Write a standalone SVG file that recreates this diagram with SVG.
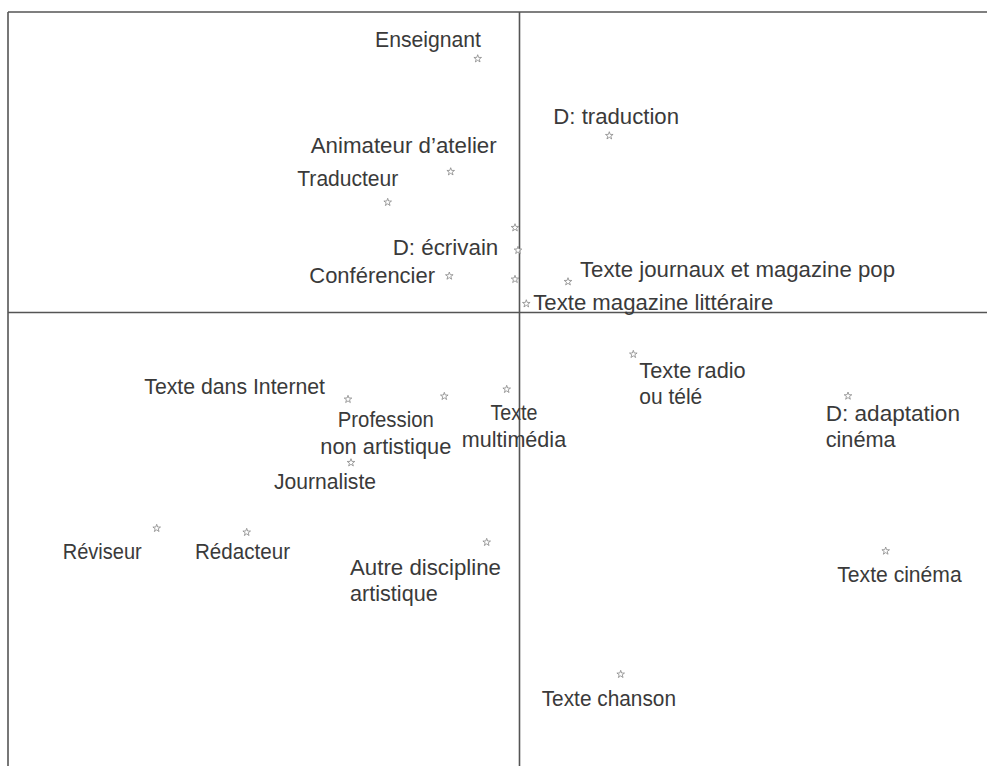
<svg xmlns="http://www.w3.org/2000/svg" xmlns:xlink="http://www.w3.org/1999/xlink" width="987" height="766" viewBox="0 0 987 766">
<style>
  .lbl { font-family: "Liberation Sans", Arial, sans-serif; font-size: 22px; fill: #3a3a3a; }
  .mid { text-anchor: middle; }
  .axis { stroke: #555; stroke-width: 1.6; fill: none; }
  .star { fill: #fff; stroke: #888; stroke-width: 0.8; }
</style>
<defs>
  <polygon id="st" class="star" points="0,-4 0.94,-1.29 3.8,-1.24 1.52,0.49 2.35,3.24 0,1.6 -2.35,3.24 -1.52,0.49 -3.8,-1.24 -0.94,-1.29"/>
</defs>
<rect width="987" height="766" fill="#fff"/>
<g id="axes">
  <line class="axis" x1="8" y1="12" x2="987" y2="12"/>
  <line class="axis" x1="8" y1="12" x2="8" y2="766"/>
  <line class="axis" x1="8" y1="312.5" x2="987" y2="312.5"/>
  <line class="axis" x1="519.5" y1="12" x2="519.5" y2="766"/>
</g>
<g id="enseignant"><use xlink:href="#st" href="#st" x="477.7" y="58.7"/><text class="lbl" x="375" y="47" textLength="106" lengthAdjust="spacingAndGlyphs">Enseignant</text></g>
<g id="d-traduction"><use xlink:href="#st" href="#st" x="609.3" y="135.7"/><text class="lbl" x="553.3" y="124" textLength="125.7" lengthAdjust="spacingAndGlyphs">D: traduction</text></g>
<g id="animateur"><use xlink:href="#st" href="#st" x="450.7" y="171.7"/><text class="lbl" x="310.7" y="152.7" textLength="186" lengthAdjust="spacingAndGlyphs">Animateur d’atelier</text></g>
<g id="traducteur"><use xlink:href="#st" href="#st" x="387.7" y="202.3"/><text class="lbl" x="297.3" y="185.7" textLength="101" lengthAdjust="spacingAndGlyphs">Traducteur</text></g>
<g id="point-a"><use xlink:href="#st" href="#st" x="515" y="227.7"/></g>
<g id="d-ecrivain"><use xlink:href="#st" href="#st" x="518" y="250.3"/><text class="lbl" x="392.7" y="255.3" textLength="105.6" lengthAdjust="spacingAndGlyphs">D: écrivain</text></g>
<g id="conferencier"><use xlink:href="#st" href="#st" x="449.3" y="276"/><text class="lbl" x="309.3" y="283.3" textLength="125.7" lengthAdjust="spacingAndGlyphs">Conférencier</text></g>
<g id="point-b"><use xlink:href="#st" href="#st" x="515" y="279.3"/></g>
<g id="texte-journaux"><use xlink:href="#st" href="#st" x="568" y="281.7"/><text class="lbl" x="580" y="276.7" textLength="315" lengthAdjust="spacingAndGlyphs">Texte journaux et magazine pop</text></g>
<g id="texte-magazine"><use xlink:href="#st" href="#st" x="526.3" y="303.7"/><text class="lbl" x="533.3" y="310" textLength="240" lengthAdjust="spacingAndGlyphs">Texte magazine littéraire</text></g>
<g id="texte-internet"><use xlink:href="#st" href="#st" x="348" y="399.3"/><text class="lbl" x="144.3" y="394" textLength="180.7" lengthAdjust="spacingAndGlyphs">Texte dans Internet</text></g>
<g id="profession"><use xlink:href="#st" href="#st" x="444.3" y="396.3"/><text class="lbl mid" x="385.8" y="427.3" textLength="96" lengthAdjust="spacingAndGlyphs">Profession</text><text class="lbl mid" x="385.8" y="454" textLength="131" lengthAdjust="spacingAndGlyphs">non artistique</text></g>
<g id="texte-multimedia"><use xlink:href="#st" href="#st" x="506.7" y="389.3"/><text class="lbl mid" x="514" y="420" textLength="47" lengthAdjust="spacingAndGlyphs">Texte</text><text class="lbl mid" x="514" y="446.7" textLength="104.3" lengthAdjust="spacingAndGlyphs">multimédia</text></g>
<g id="journaliste"><use xlink:href="#st" href="#st" x="351" y="462.7"/><text class="lbl" x="274" y="489.3" textLength="102" lengthAdjust="spacingAndGlyphs">Journaliste</text></g>
<g id="reviseur"><use xlink:href="#st" href="#st" x="156.7" y="528.3"/><text class="lbl" x="62.7" y="559" textLength="79" lengthAdjust="spacingAndGlyphs">Réviseur</text></g>
<g id="redacteur"><use xlink:href="#st" href="#st" x="246.7" y="532.3"/><text class="lbl" x="195" y="559" textLength="95" lengthAdjust="spacingAndGlyphs">Rédacteur</text></g>
<g id="autre-discipline"><use xlink:href="#st" href="#st" x="486.7" y="542.3"/><text class="lbl" x="350" y="575" textLength="151" lengthAdjust="spacingAndGlyphs">Autre discipline</text><text class="lbl" x="350" y="600.7" textLength="87.7" lengthAdjust="spacingAndGlyphs">artistique</text></g>
<g id="texte-radio"><use xlink:href="#st" href="#st" x="633.3" y="354.3"/><text class="lbl" x="639.3" y="378.3" textLength="106.4" lengthAdjust="spacingAndGlyphs">Texte radio</text><text class="lbl" x="639.3" y="404" textLength="63" lengthAdjust="spacingAndGlyphs">ou télé</text></g>
<g id="d-adaptation"><use xlink:href="#st" href="#st" x="848" y="396"/><text class="lbl" x="825.7" y="420.7" textLength="134.3" lengthAdjust="spacingAndGlyphs">D: adaptation</text><text class="lbl" x="825.7" y="446.7" textLength="70" lengthAdjust="spacingAndGlyphs">cinéma</text></g>
<g id="texte-cinema"><use xlink:href="#st" href="#st" x="885.7" y="551"/><text class="lbl" x="837.3" y="581.7" textLength="124.4" lengthAdjust="spacingAndGlyphs">Texte cinéma</text></g>
<g id="texte-chanson"><use xlink:href="#st" href="#st" x="620.7" y="674.3"/><text class="lbl" x="541.7" y="706" textLength="134.3" lengthAdjust="spacingAndGlyphs">Texte chanson</text></g>
</svg>
